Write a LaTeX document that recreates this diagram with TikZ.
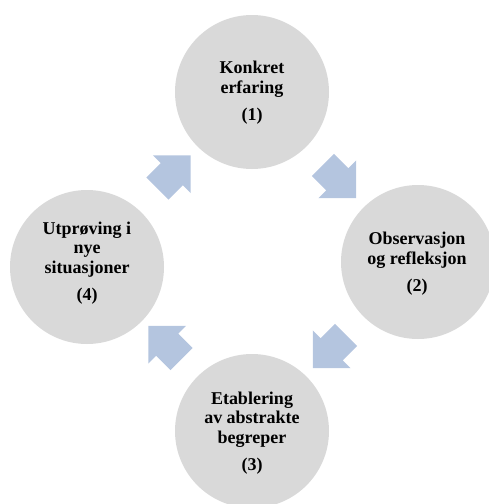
\documentclass[tikz,border=0pt]{standalone}
\usepackage{fontspec}
\setmainfont{Liberation Serif}
\usetikzlibrary{shapes.arrows}
\definecolor{circfill}{HTML}{D9D9D9}
\definecolor{arrfill}{HTML}{B4C5DF}
\begin{document}
\begin{tikzpicture}[x=1pt,y=-1pt,
  stage/.style={circle, fill=circfill, draw=none, minimum size=154pt, inner sep=0pt},
  stagetext/.style={align=center, font=\fontsize{18}{19.5}\selectfont\bfseries, inner sep=0pt},
  cyclearrow/.style={single arrow, fill=arrfill, draw=none, minimum height=47pt,
    single arrow head extend=11pt, single arrow tip angle=90, inner sep=0pt}]
\useasboundingbox (0,0) rectangle (489,504);
\clip (0,0) rectangle (489,504);
\node[stage] (c1) at (252,92) {};
\node[stage] (c2) at (418,262) {};
\node[stage] (c3) at (252,431) {};
\node[stage] (c4) at (87,267) {};
\node[stagetext] (t1) at (252,93) {Konkret\\erfaring\\[8pt](1)};
\node[stagetext] (t2) at (417,264) {Observasjon\\og refleksjon\\[8pt](2)};
\node[stagetext] (t3) at (252,433) {Etablering\\av abstrakte\\begreper\\[8pt](3)};
\node[stagetext] (t4) at (87,263) {Utprøving i\\nye\\situasjoner\\[8pt](4)};
\node[cyclearrow, rotate=-45] (a12) at (334,176) {\rule[-15.5pt]{0pt}{31pt}};
\node[cyclearrow, rotate=-135] (a23) at (335,346) {\rule[-15.5pt]{0pt}{31pt}};
\node[cyclearrow, rotate=135] (a34) at (170.5,348) {\rule[-15.5pt]{0pt}{31pt}};
\node[cyclearrow, rotate=45] (a41) at (168.5,177.5) {\rule[-15.5pt]{0pt}{31pt}};
\end{tikzpicture}
\end{document}
